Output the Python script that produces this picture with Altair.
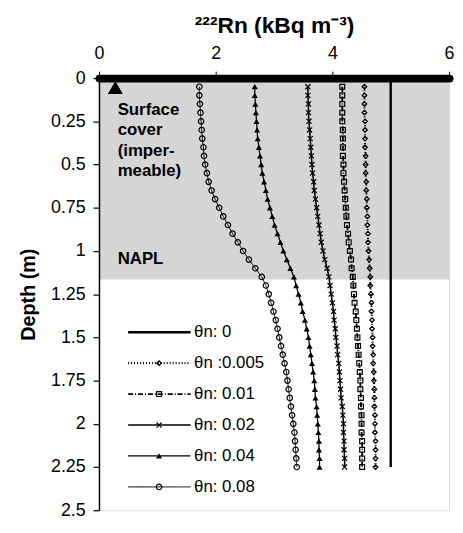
import altair as alt
import pandas as pd

# ---------------- data ----------------
depth = [0.05, 0.10, 0.15, 0.20, 0.25, 0.30, 0.35, 0.40, 0.45, 0.50,
         0.55, 0.60, 0.65, 0.70, 0.75, 0.80, 0.85, 0.90, 0.95, 1.00,
         1.05, 1.10, 1.15, 1.20, 1.25, 1.30, 1.35, 1.40, 1.45, 1.50,
         1.55, 1.60, 1.65, 1.70, 1.75, 1.80, 1.85, 1.90, 1.95, 2.00,
         2.05, 2.10, 2.15, 2.20, 2.25]

rn_0005 = [4.55, 4.55, 4.55, 4.55, 4.56, 4.56, 4.56, 4.56, 4.57, 4.57,
           4.57, 4.58, 4.58, 4.59, 4.59, 4.60, 4.60, 4.61, 4.61, 4.62,
           4.63, 4.64, 4.65, 4.65, 4.66, 4.67, 4.67, 4.68, 4.68, 4.69,
           4.69, 4.70, 4.70, 4.71, 4.71, 4.72, 4.72, 4.72, 4.73, 4.73,
           4.73, 4.74, 4.74, 4.74, 4.74]

rn_001 = [4.17, 4.17, 4.17, 4.17, 4.17, 4.18, 4.18, 4.18, 4.18, 4.19,
          4.19, 4.20, 4.21, 4.22, 4.23, 4.24, 4.25, 4.27, 4.28, 4.30,
          4.32, 4.33, 4.35, 4.36, 4.37, 4.38, 4.40, 4.41, 4.42, 4.43,
          4.44, 4.45, 4.46, 4.47, 4.48, 4.48, 4.49, 4.49, 4.50, 4.50,
          4.50, 4.51, 4.51, 4.51, 4.51]

rn_002 = [3.58, 3.58, 3.59, 3.59, 3.60, 3.61, 3.62, 3.63, 3.64, 3.65,
          3.66, 3.68, 3.69, 3.71, 3.73, 3.75, 3.77, 3.79, 3.81, 3.84,
          3.87, 3.91, 3.94, 3.96, 3.98, 4.00, 4.02, 4.03, 4.05, 4.06,
          4.08, 4.09, 4.11, 4.12, 4.13, 4.14, 4.15, 4.17, 4.18, 4.19,
          4.19, 4.20, 4.20, 4.21, 4.21]

rn_004 = [2.67, 2.67, 2.68, 2.69, 2.70, 2.71, 2.72, 2.74, 2.76, 2.78,
          2.80, 2.83, 2.86, 2.89, 2.93, 2.97, 3.01, 3.06, 3.11, 3.16,
          3.22, 3.28, 3.34, 3.38, 3.42, 3.46, 3.49, 3.53, 3.56, 3.59,
          3.61, 3.63, 3.65, 3.67, 3.69, 3.70, 3.71, 3.73, 3.74, 3.75,
          3.76, 3.77, 3.77, 3.78, 3.78]

rn_008 = [1.72, 1.72, 1.73, 1.74, 1.75, 1.76, 1.77, 1.79, 1.80, 1.82,
          1.85, 1.88, 1.93, 1.99, 2.06, 2.13, 2.21, 2.29, 2.38, 2.47,
          2.57, 2.68, 2.79, 2.86, 2.91, 2.95, 2.99, 3.03, 3.06, 3.09,
          3.12, 3.15, 3.18, 3.21, 3.23, 3.25, 3.27, 3.29, 3.31, 3.33,
          3.35, 3.36, 3.37, 3.38, 3.39]

rn_0_depth = [0.0, 2.25]
rn_0 = [5.0, 5.0]

labels = ["θn: 0", "θn :0.005", "θn: 0.01", "θn: 0.02", "θn: 0.04", "θn: 0.08"]

napl_bottom = 1.165         # bottom of shaded layer (m)
surface_marker_rn = [0.28]
surface_marker_depth = [0.055]

x_ticks = [0, 2, 4, 6]
y_ticks = [0, 0.25, 0.5, 0.75, 1, 1.25, 1.5, 1.75, 2, 2.25, 2.5]

# ---------------- build tables ----------------
rows = []
for d, v in zip(rn_0_depth, rn_0):
    rows.append({"series": labels[0], "depth": d, "rn": v})
for lab, vals in zip(labels[1:], [rn_0005, rn_001, rn_002, rn_004, rn_008]):
    for d, v in zip(depth, vals):
        rows.append({"series": lab, "depth": d, "rn": v})
df = pd.DataFrame(rows)

FONT = "Liberation Sans"
BLACK = "#000000"

x_scale = alt.Scale(domain=[0, 6], nice=False, zero=False)
y_scale = alt.Scale(domain=[0, 2.5], nice=False, reverse=True)

dash_scale = alt.Scale(domain=labels,
                       range=[[1, 0], [1, 2], [5, 2, 1, 2], [1, 0], [1, 0], [1, 0]])
width_scale = alt.Scale(domain=labels, range=[2.4, 1, 1, 1, 1, 1])
xpath = "M-1,-1L1,1M-1,1L1,-1"
shape_scale = alt.Scale(domain=labels,
                        range=["stroke", "diamond", "square", xpath, "triangle-up", "circle"])
size_scale = alt.Scale(domain=labels, range=[20, 30, 28, 26, 38, 26])

x_axis = alt.Axis(orient="top", values=x_ticks, title="²²²Rn (kBq m⁻³)",
                  labelExpr="'' + datum.value",
                  labelFontSize=18, titleFontSize=23, titleFontWeight="bold",
                  labelFont=FONT, titleFont=FONT, labelColor=BLACK, titleColor=BLACK,
                  tickSize=7, tickColor=BLACK, tickWidth=1,
                  domainWidth=8, domainColor=BLACK, domainCap="round",
                  labelPadding=9, titlePadding=7, grid=False, labelFlush=False,
                  zindex=2)
y_axis = alt.Axis(values=y_ticks, labelExpr="'' + datum.value", title="Depth (m)",
                  labelFontSize=18, titleFontSize=20, titleFontWeight="bold",
                  labelFont=FONT, titleFont=FONT, labelColor=BLACK, titleColor=BLACK,
                  tickSize=6, tickColor=BLACK, tickWidth=1.2,
                  domainWidth=1.5, domainColor=BLACK,
                  labelPadding=8, titlePadding=12, grid=False, labelFlush=False,
                  zindex=2)

# shaded layer
shade_df = pd.DataFrame({"x0": [0], "x1": [6], "d0": [0], "d1": [napl_bottom]})
shade = alt.Chart(shade_df).mark_rect(color="#d5d5d5").encode(
    x=alt.X("x0:Q", scale=x_scale, axis=x_axis),
    x2="x1:Q",
    y=alt.Y("d0:Q", scale=y_scale, axis=y_axis),
    y2="d1:Q",
)

lines = alt.Chart(df).mark_line(color=BLACK).encode(
    x=alt.X("rn:Q", scale=x_scale),
    y=alt.Y("depth:Q", scale=y_scale),
    detail="series:N",
    order="depth:Q",
    strokeDash=alt.StrokeDash("series:N", scale=dash_scale, legend=None),
    strokeWidth=alt.StrokeWidth("series:N", scale=width_scale, legend=None),
)

open_df = df[df["series"].isin([labels[1], labels[2], labels[3], labels[5]])]
open_pts = alt.Chart(open_df).mark_point(filled=False, color=BLACK, strokeWidth=1.2,
                                         opacity=1).encode(
    x="rn:Q", y="depth:Q",
    shape=alt.Shape("series:N", scale=shape_scale, legend=None),
    size=alt.Size("series:N", scale=size_scale, legend=None),
)
tri_df = df[df["series"] == labels[4]]
tri_pts = alt.Chart(tri_df).mark_point(filled=True, shape="triangle-up", color=BLACK,
                                       size=38, opacity=1).encode(
    x="rn:Q", y="depth:Q",
)

surf_df = pd.DataFrame({"rn": surface_marker_rn, "depth": surface_marker_depth})
surf = alt.Chart(surf_df).mark_point(filled=True, shape="triangle-up", color=BLACK,
                                     size=230, opacity=1).encode(x="rn:Q", y="depth:Q")

# annotations
ann_df = pd.DataFrame({"rn": [0.32], "depth": [0.185]})
ann = alt.Chart(ann_df).mark_text(
    text="Surface\ncover\n(imper-\nmeable)", lineBreak="\n", lineHeight=20.5,
    align="left", baseline="middle", font=FONT, fontSize=17, fontWeight="bold",
    color=BLACK).encode(x="rn:Q", y="depth:Q")
napl_df = pd.DataFrame({"rn": [0.32], "depth": [1.045]})
napl = alt.Chart(napl_df).mark_text(
    text="NAPL", align="left", baseline="middle", font=FONT, fontSize=17,
    fontWeight="bold", color=BLACK).encode(x="rn:Q", y="depth:Q")

# legend (drawn inside the plot, in data units)
leg_top, leg_step = 1.47, 0.179
leg_x0, leg_x1, leg_xm, leg_xt = 0.5, 1.57, 1.03, 1.63
leg_df = pd.DataFrame({
    "series": labels,
    "ly": [leg_top + i * leg_step for i in range(len(labels))],
    "lx0": [leg_x0] * len(labels),
    "lx1": [leg_x1] * len(labels),
    "lxm": [leg_xm] * len(labels),
    "lxt": [leg_xt] * len(labels),
})
leg_lines = alt.Chart(leg_df).mark_rule(color=BLACK).encode(
    x="lx0:Q", x2="lx1:Q", y="ly:Q",
    strokeDash=alt.StrokeDash("series:N", scale=dash_scale, legend=None),
    strokeWidth=alt.StrokeWidth("series:N", scale=width_scale, legend=None),
)
leg_open = alt.Chart(leg_df[leg_df["series"].isin([labels[1], labels[2], labels[3], labels[5]])]).mark_point(
    filled=False, color=BLACK, strokeWidth=1.2, opacity=1).encode(
    x="lxm:Q", y="ly:Q",
    shape=alt.Shape("series:N", scale=shape_scale, legend=None),
    size=alt.Size("series:N", scale=size_scale, legend=None),
)
leg_tri = alt.Chart(leg_df[leg_df["series"] == labels[4]]).mark_point(
    filled=True, shape="triangle-up", color=BLACK, size=38, opacity=1).encode(
    x="lxm:Q", y="ly:Q")
leg_text = alt.Chart(leg_df).mark_text(
    align="left", baseline="middle", font=FONT, fontSize=17, color=BLACK).encode(
    x="lxt:Q", y="ly:Q", text="series:N")

chart = alt.layer(
    shade, lines, open_pts, tri_pts, surf, ann, napl,
    leg_lines, leg_open, leg_tri, leg_text,
).properties(
    width=354, height=437,
    padding={"left": 10, "top": 4, "right": 0, "bottom": 0},
).configure_view(stroke=None).configure(background="white")

chart.save("out.html", embed_options={"renderer": "svg", "actions": False})
